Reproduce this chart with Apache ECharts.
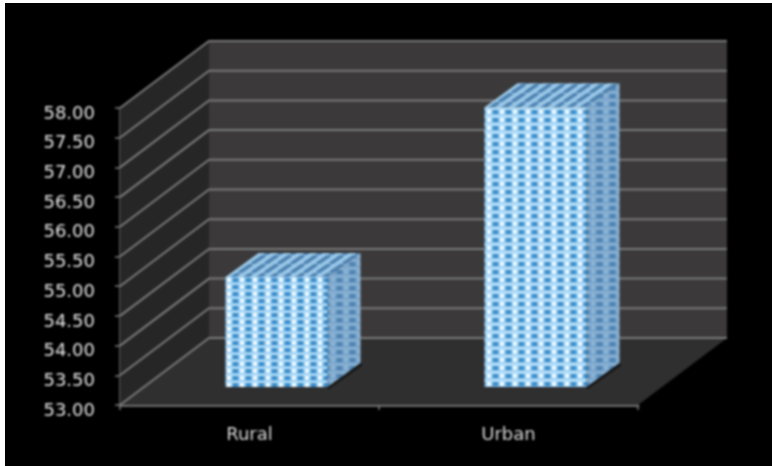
<!DOCTYPE html>
<html><head><meta charset="utf-8">
<style>html,body{margin:0;padding:0;background:#fff;overflow:hidden}
#w{position:absolute;left:5px;top:3px;width:767px;height:463px;overflow:hidden;background:#000}
#c{width:767px;height:463px;filter:blur(0.9px)}</style>
<script src="https://cdn.jsdelivr.net/npm/echarts@6/dist/echarts.min.js"></script>
</head><body><div id="w"><div id="c"></div></div>
<script>
const categories = ['Rural', 'Urban'];
const values = [54.85, 57.71];
const yTicks = [53, 53.5, 54, 54.5, 55, 55.5, 56, 56.5, 57, 57.5, 58];

const yMin = 53, yMax = 58;
const WALL_DX = 89, WALL_DY = -67;   // depth of the 3D box
const BAR_DX = 27, BAR_DY = -18;     // bar front plane inside the box
const DEPTH_DX = 33, DEPTH_DY = -24; // bar depth
const BAR_RATIO = 0.394;

function tile(w, h, draw) {
  const c = document.createElement('canvas');
  c.width = w; c.height = h;
  draw(c.getContext('2d'), w, h);
  return c;
}
function dots(h, bg, line, a, b) {
  return tile(13, h, (g, w) => {
    g.fillStyle = bg; g.fillRect(0, 0, w, h);
    g.fillStyle = line; g.fillRect(0, 0, w, h - 5);
    g.fillStyle = a; g.fillRect(1, h - 5, 4, 4);
    g.fillStyle = b; g.fillRect(7, h - 5, 5, 4);
  });
}
const frontTiles = [
  dots(7, '#86c4f0', '#b5def8', '#f4fbff', '#3c8bc6'),
  dots(8, '#86c4f0', '#b5def8', '#f4fbff', '#3c8bc6')
];
const sideTile = dots(8, '#6c9cc6', '#86aed0', '#8fb4d4', '#4f82b0');
const topTile = tile(13, 9, (g, w, h) => {
  g.fillStyle = '#9cc8e8'; g.fillRect(0, 0, w, h);
  g.strokeStyle = '#4d82b0'; g.lineWidth = 3.6;
  [-w, 0, w].forEach(o => { g.beginPath(); g.moveTo(o, h); g.lineTo(o + w, 0); g.stroke(); });
});

function frame(api) {
  const size = api.size([1, 0])[0];
  const x0 = api.coord([0, yMin])[0] - size / 2;
  const x1 = api.coord([1, yMin])[0] + size / 2;
  return { size, x0, x1, yBot: api.coord([0, yMin])[1], yTop: api.coord([0, yMax])[1] };
}
function poly(points, fill) {
  return { type: 'polygon', shape: { points }, style: { fill } };
}

const option = {
  backgroundColor: '#000',
  animation: false,
  grid: { left: 115, right: 134, top: 105, height: 297 },
  xAxis: {
    type: 'category', data: categories,
    axisLine: { lineStyle: { color: '#7c7c7c', width: 2.5 } },
    axisTick: { show: true, alignWithLabel: false, length: 5, lineStyle: { color: '#7c7c7c', width: 1.5 } },
    axisLabel: { color: '#d8d8d8', fontFamily: 'DejaVu Sans', fontSize: 18, margin: 21 }
  },
  yAxis: {
    type: 'value', min: yMin, max: yMax, interval: 0.5,
    axisLine: { show: true, lineStyle: { color: '#7c7c7c', width: 2.5 } },
    axisTick: { show: true, length: 5, lineStyle: { color: '#7c7c7c', width: 1.5 } },
    splitLine: { show: false },
    axisLabel: { color: '#e4e4e4', fontFamily: 'DejaVu Sans', fontSize: 18, margin: 25, verticalAlign: 'top', lineHeight: 12, formatter: v => v.toFixed(2) }
  },
  series: [
    { // walls and floor
      type: 'custom', coordinateSystem: 'cartesian2d', silent: true, z: 1, clip: false,
      data: [[0, yMin]],
      renderItem(p, api) {
        const f = frame(api);
        return { type: 'group', children: [
          poly([[f.x0 + WALL_DX, f.yTop + WALL_DY], [f.x1 + WALL_DX, f.yTop + WALL_DY], [f.x1 + WALL_DX, f.yBot + WALL_DY], [f.x0 + WALL_DX, f.yBot + WALL_DY]], '#3b3939'),
          poly([[f.x0, f.yTop], [f.x0 + WALL_DX, f.yTop + WALL_DY], [f.x0 + WALL_DX, f.yBot + WALL_DY], [f.x0, f.yBot]], '#262626'),
          poly([[f.x0, f.yBot], [f.x1, f.yBot], [f.x1 + WALL_DX, f.yBot + WALL_DY], [f.x0 + WALL_DX, f.yBot + WALL_DY]], '#302f2f')
        ] };
      }
    },
    { // gridlines that wrap around the side and back walls
      type: 'custom', coordinateSystem: 'cartesian2d', silent: true, z: 2, clip: false,
      data: yTicks.map(t => [0, t]),
      renderItem(p, api) {
        const f = frame(api);
        const y = api.coord([0, api.value(1)])[1];
        const pts = [[f.x0, y], [f.x0 + WALL_DX, y + WALL_DY], [f.x1 + WALL_DX, y + WALL_DY]];
        return { type: 'polyline', shape: { points: pts }, style: { stroke: '#7a7a7a', lineWidth: 2, fill: null } };
      }
    },
    { // the cuboid bars
      type: 'custom', coordinateSystem: 'cartesian2d', z: 5, clip: false,
      data: values.map((v, i) => [i, v]),
      encode: { x: 0, y: 1 },
      renderItem(p, api) {
        const f = frame(api);
        const i = api.value(0), v = api.value(1);
        const cx = api.coord([i, yMin])[0] + BAR_DX;
        const w = f.size * BAR_RATIO;
        const l = cx - w / 2, r = cx + w / 2;
        const t = api.coord([i, v])[1] + BAR_DY;
        const b = f.yBot + BAR_DY;
        return { type: 'group', children: [
          { type: 'polyline', shape: { points: [[r, b + 1], [r + DEPTH_DX + 1, b + DEPTH_DY + 1]] }, style: { stroke: '#141414', lineWidth: 3, fill: null } },
          poly([[r, t], [r + DEPTH_DX, t + DEPTH_DY], [r + DEPTH_DX, b + DEPTH_DY], [r, b]], { image: sideTile, repeat: 'repeat' }),
          poly([[l, t], [r, t], [r + DEPTH_DX, t + DEPTH_DY], [l + DEPTH_DX, t + DEPTH_DY]], { image: topTile, repeat: 'repeat' }),
          poly([[l, t], [r, t], [r, b], [l, b]], { image: frontTiles[i], repeat: 'repeat' })
        ] };
      }
    }
  ]
};
echarts.init(document.getElementById('c'), null, { renderer: 'canvas' }).setOption(option);
</script></body></html>
